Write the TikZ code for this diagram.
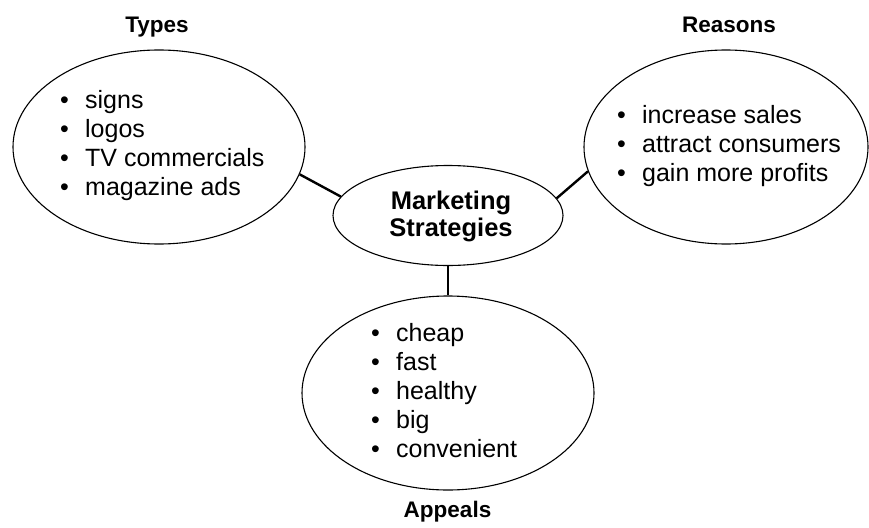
\documentclass[tikz,border=0pt]{standalone}
\usepackage{fontspec}
\setmainfont{Liberation Sans}
\usetikzlibrary{shapes.geometric}
\newcommand\itm{\makebox[25pt][l]{\textbullet}}
\tikzset{
  bubble/.style={draw, ellipse, line width=1.1pt, inner sep=0pt},
  link/.style={line width=2.4pt},
  heading/.style={anchor=base, inner sep=0pt, font=\fontsize{22.5}{27}\selectfont\bfseries},
  % base west sits on the last line's baseline
  listing/.style={anchor=base west, inner sep=0pt, align=left, font=\fontsize{25}{29}\selectfont},
  core/.style={inner sep=0pt, align=center, font=\fontsize{25.5}{27}\selectfont\bfseries}
}
\begin{document}
\begin{tikzpicture}[x=1pt, y=-1pt]
  \useasboundingbox (0,0) rectangle (869,527);
  % the four bubbles
  \node[bubble, minimum width=292pt, minimum height=194pt] (types) at (159,147) {};
  \node[bubble, minimum width=284pt, minimum height=194pt] (reasons) at (726,147) {};
  \node[bubble, minimum width=230pt, minimum height=100pt] (ms) at (448,215.5) {};
  \node[bubble, minimum width=292pt, minimum height=194pt] (appeals) at (448,393) {};
  % links from the centre bubble
  \draw[link] (types.-11.3) -- (ms.170);
  \draw[link] (reasons.190.5) -- (ms.9.8);
  \draw[link] (ms.south) -- (appeals.north);
  % centre text
  \node[core] (mstxt) at (451,216) {Marketing\\Strategies};
  % lists
  \node[listing] (typelist) at (60,195) {\itm signs\\\itm logos\\\itm TV commercials\\\itm magazine ads};
  \node[listing] (reasonlist) at (617,181) {\itm increase sales\\\itm attract consumers\\\itm gain more profits};
  \node[listing] (appeallist) at (371,457) {\itm cheap\\\itm fast\\\itm healthy\\\itm big\\\itm convenient};
  % headings
  \node[heading] (typeshead) at (157,33) {Types};
  \node[heading] (reasonshead) at (729,33) {Reasons};
  \node[heading] (appealshead) at (447.5,517) {Appeals};
\end{tikzpicture}
\end{document}
